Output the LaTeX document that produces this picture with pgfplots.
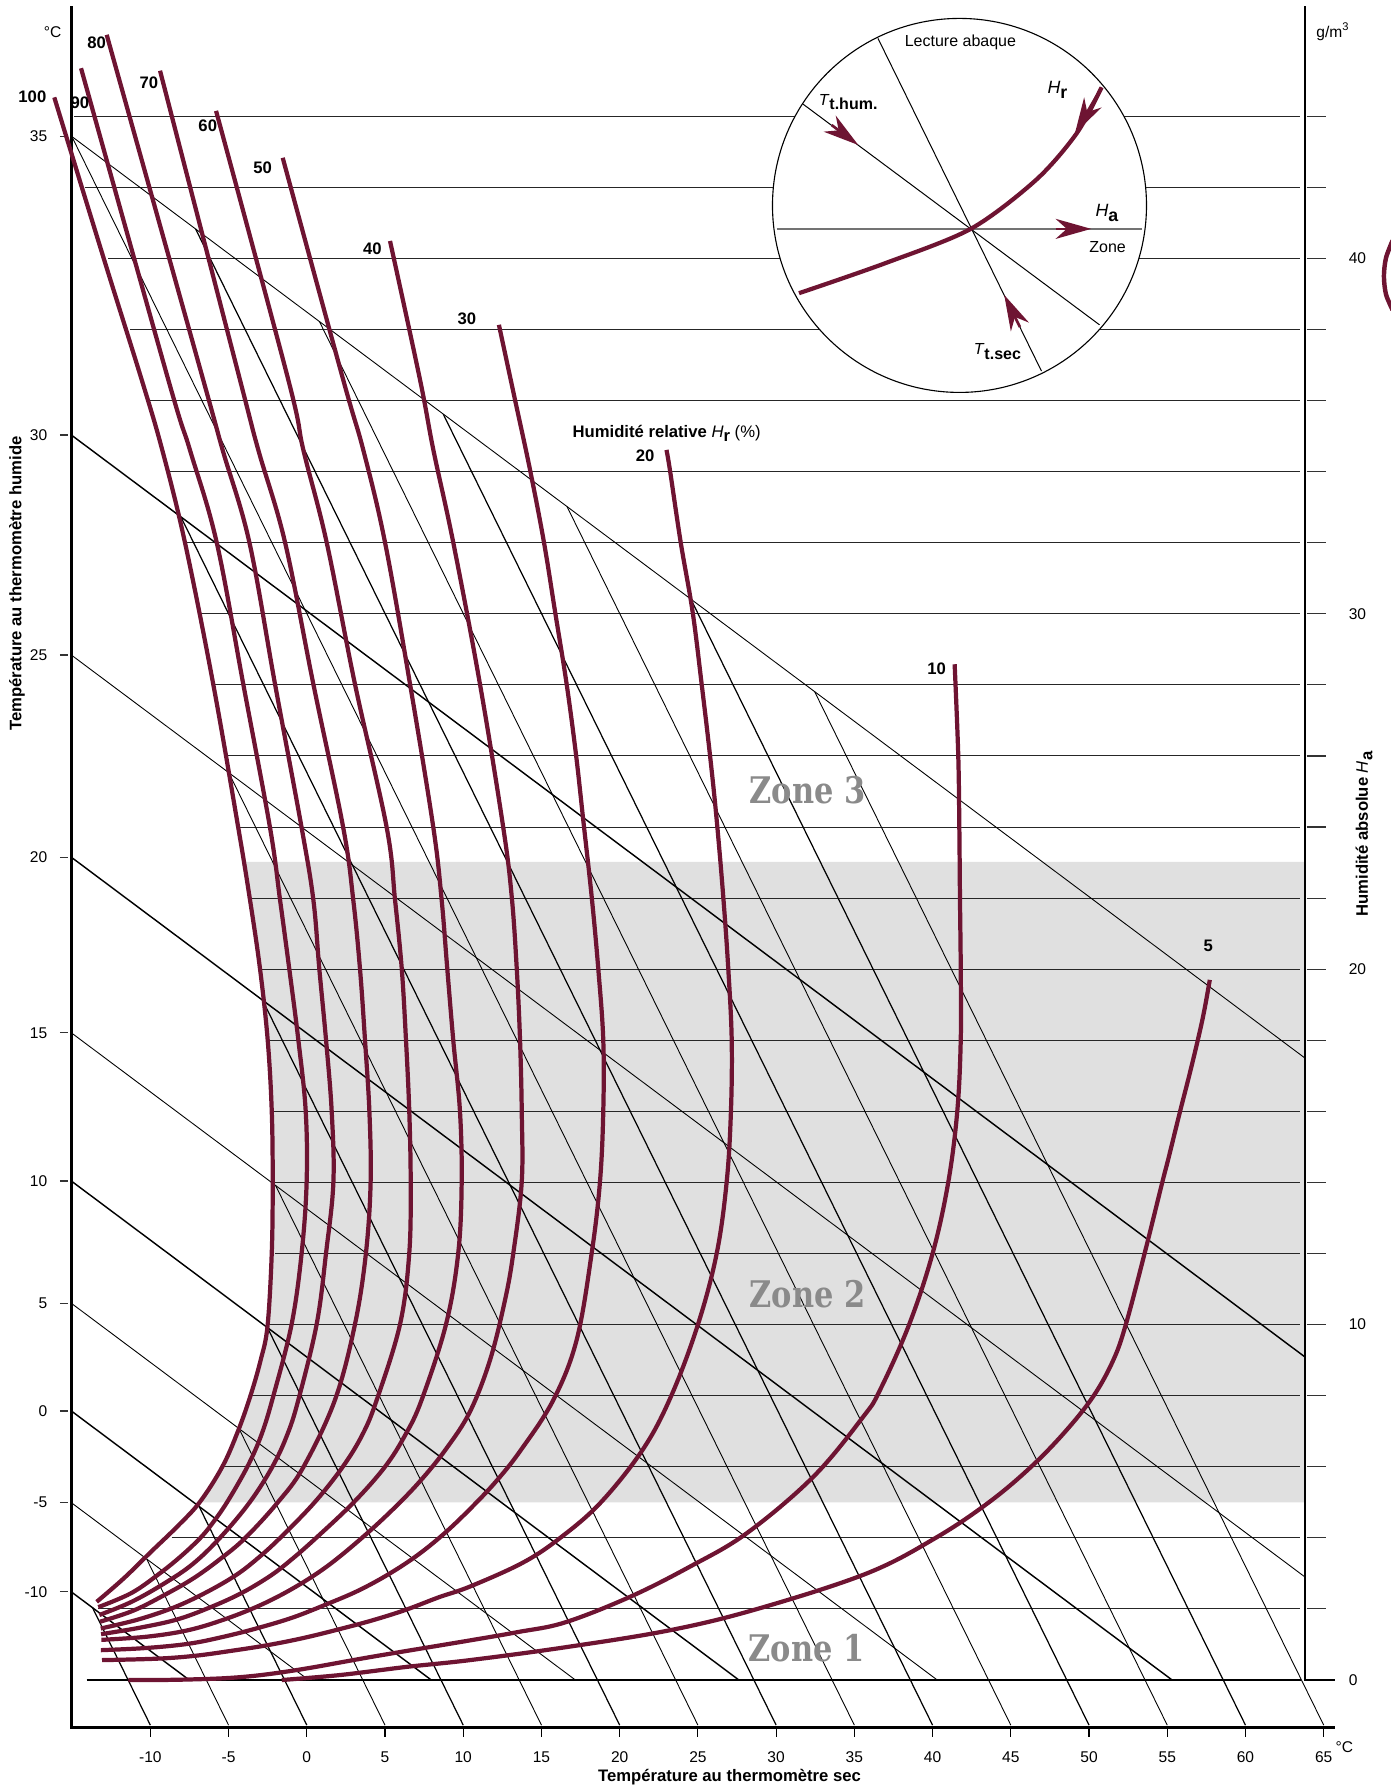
\documentclass[border=0pt]{standalone}
\usepackage{fontspec}
\setmainfont{Liberation Sans}
\newfontfamily\zonefont{DejaVu Serif}[FakeStretch=0.83]
\usepackage{pgfplots}
\pgfplotsset{compat=1.18}
\usetikzlibrary{arrows.meta}
\definecolor{rh}{RGB}{110,20,50}
\definecolor{band}{RGB}{224,224,224}
\definecolor{zonegray}{RGB}{138,138,138}
\newcommand{\fs}[1]{\fontsize{#1}{#1}\selectfont}
\newcommand{\sub}[1]{\raisebox{-0.5ex}{\bfseries #1}}
\begin{document}
\begin{tikzpicture}
\begin{axis}[x=7.04pt, y=15.993pt, xmin=-19.61, xmax=69.30, ymin=-3.01, ymax=47.27,
  hide axis, clip=false, unbounded coords=jump]
% grey band (zone 2)
\addplot[fill=band, draw=none] coordinates {(-4.02,23.02) (-3.63,21.95) (-2.99,20.01) (-2.50,18.01) (-2.24,16.01) (-2.18,14.01) (-2.24,12.01) (-2.51,9.96) (-2.95,9.0) (-3.6,8.0) (-4.4,7.0) (-5.4,6.0) (-6.85,5.0) (63.8,5.0) (63.8,23.02)};
% absolute humidity lines
\addplot[line width=0.45pt, black!85] coordinates {
(-14.88,44)(63.47,44) (nan,nan) (-14.18,42)(63.47,42) (nan,nan) (-12.69,40)(63.47,40) (nan,nan)
(-11.30,38)(63.47,38) (nan,nan) (-10.02,36)(63.47,36) (nan,nan) (-8.74,34)(63.47,34) (nan,nan)
(-7.79,32)(63.47,32) (nan,nan) (-6.83,30)(63.47,30) (nan,nan) (-5.97,28)(63.47,28) (nan,nan)
(-5.12,26)(63.47,26) (nan,nan) (-4.27,24)(63.47,24) (nan,nan) (-3.52,22)(63.47,22) (nan,nan)
(-2.88,20)(63.47,20) (nan,nan) (-2.46,18)(63.47,18) (nan,nan) (-2.20,16)(63.47,16) (nan,nan)
(-2.14,14)(63.47,14) (nan,nan) (-2.03,12)(63.47,12) (nan,nan) (-2.35,10)(63.47,10) (nan,nan)
(-3.52,8)(63.47,8) (nan,nan) (-5.34,6)(63.47,6) (nan,nan) (-8.64,4)(63.47,4) (nan,nan)
(-13.32,2)(63.47,2)};
\addplot[line width=1.2pt, black] coordinates {(-14.07,0)(63.58,0)};
% wet-bulb lines
\addplot[line width=0.65pt, black] coordinates {
(-15.05,35.03)(63.8,9.09) (nan,nan) (-15.05,23.15)(55.31,0) (nan,nan)
(-15.05,14.04)(27.62,0) (nan,nan) (-15.05,7.57)(7.96,0) (nan,nan) (-15.05,2.48)(-7.51,0)};
\addplot[line width=0.4pt, black] coordinates {
(-15.05,43.44)(63.8,17.50) (nan,nan) (-15.05,28.84)(63.8,2.90) (nan,nan)
(-15.05,18.21)(40.30,0) (nan,nan) (-15.05,10.60)(17.17,0) (nan,nan) (-15.05,4.99)(0.12,0)};
% dry-bulb lines
\addplot[line width=0.55pt, black] coordinates {
(-13.70,2.04)(-10,-1.27) (nan,nan) (-6.89,4.89)(0,-1.27) (nan,nan) (-2.52,9.92)(10,-1.27) (nan,nan)
(-2.83,19.13)(20,-1.27) (nan,nan) (-8.04,32.72)(30,-1.27) (nan,nan) (-7.11,40.83)(40,-1.27) (nan,nan)
(8.72,35.62)(50,-1.27) (nan,nan) (24.54,30.42)(60,-1.27)};
\addplot[line width=0.4pt, black] coordinates {
(-10.23,3.40)(-5,-1.27) (nan,nan) (-4.34,7.08)(5,-1.27) (nan,nan) (-1.99,13.91)(15,-1.27) (nan,nan)
(-4.99,25.53)(25,-1.27) (nan,nan) (-15.02,43.43)(35,-1.27) (nan,nan) (0.80,38.23)(45,-1.27) (nan,nan)
(16.63,33.02)(55,-1.27) (nan,nan) (32.46,27.81)(65,-1.27)};
% axes
\addplot[line width=1.2pt, black] coordinates {(-15.05,47.1)(-15.05,-1.33)(65.7,-1.33)};
\addplot[line width=1.2pt, black] coordinates {(63.8,47.1)(63.8,0)(65.7,0)};
% ticks
\addplot[line width=0.5pt, black] coordinates {
(-10,-1.33)(-10,-1.60) (nan,nan) (-5,-1.33)(-5,-1.60) (nan,nan) (0,-1.33)(0,-1.60) (nan,nan)
(5,-1.33)(5,-1.60) (nan,nan) (10,-1.33)(10,-1.60) (nan,nan) (15,-1.33)(15,-1.60) (nan,nan)
(20,-1.33)(20,-1.60) (nan,nan) (25,-1.33)(25,-1.60) (nan,nan) (30,-1.33)(30,-1.60) (nan,nan)
(35,-1.33)(35,-1.60) (nan,nan) (40,-1.33)(40,-1.60) (nan,nan) (45,-1.33)(45,-1.60) (nan,nan)
(50,-1.33)(50,-1.60) (nan,nan) (55,-1.33)(55,-1.60) (nan,nan) (60,-1.33)(60,-1.60) (nan,nan)
(65,-1.33)(65,-1.60)};
\addplot[line width=0.5pt, black!80] coordinates {
(-15.78,43.44)(-15.25,43.44) (nan,nan) (-15.78,35.03)(-15.25,35.03) (nan,nan)
(-15.78,28.84)(-15.25,28.84) (nan,nan) (-15.78,23.15)(-15.25,23.15) (nan,nan)
(-15.78,18.21)(-15.25,18.21) (nan,nan) (-15.78,14.04)(-15.25,14.04) (nan,nan)
(-15.78,10.60)(-15.25,10.60) (nan,nan) (-15.78,7.57)(-15.25,7.57) (nan,nan)
(-15.78,4.99)(-15.25,4.99) (nan,nan) (-15.78,2.48)(-15.25,2.48)};
\addplot[line width=0.5pt, black!80] coordinates {
(63.91,2)(65.16,2) (nan,nan) (63.91,4)(65.16,4) (nan,nan) (63.91,6)(65.16,6) (nan,nan)
(63.91,8)(65.16,8) (nan,nan) (63.91,10)(65.16,10) (nan,nan) (63.91,12)(65.16,12) (nan,nan)
(63.91,14)(65.16,14) (nan,nan) (63.91,16)(65.16,16) (nan,nan) (63.91,18)(65.16,18) (nan,nan)
(63.91,20)(65.16,20) (nan,nan) (63.91,22)(65.16,22) (nan,nan) (63.91,24)(65.16,24) (nan,nan)
(63.91,26)(65.16,26) (nan,nan) (63.91,28)(65.16,28) (nan,nan) (63.91,30)(65.16,30) (nan,nan)
(63.91,32)(65.16,32) (nan,nan) (63.91,34)(65.16,34) (nan,nan) (63.91,36)(65.16,36) (nan,nan)
(63.91,38)(65.16,38) (nan,nan) (63.91,40)(65.16,40) (nan,nan) (63.91,42)(65.16,42) (nan,nan)
(63.91,44)(65.16,44)};
% relative humidity curves
\pgfplotsset{rhc/.style={rh, line width=1.9pt, smooth, tension=0.6, line cap=butt}}
\addplot[rhc] coordinates {(-16.14,44.53) (-12.98,40.0) (-10.55,36.58) (-9.24,34.61) (-7.79,32.01) (-5.98,28.02) (-4.38,23.98) (-3.63,21.95) (-2.99,20.01) (-2.50,18.01) (-2.24,16.01) (-2.18,14.01) (-2.24,12.01) (-2.51,9.96) (-2.95,9.0) (-3.6,8.0) (-4.4,7.0) (-5.4,6.0) (-6.85,5.0) (-8.3,4.31) (-9.95,3.61) (-11.7,2.86) (-13.43,2.20)};
\addplot[rhc] coordinates {(-14.43,45.35) (-8.85,36.58) (-7.47,34.61) (-5.76,32.01) (-4.06,28.02) (-2.35,23.98) (-1.71,21.95) (-1.12,20.01) (-0.54,18.01) (-0.07,16.01) (-0.01,14.01) (-0.33,12.01) (-0.97,10.01) (-2.14,7.99) (-2.9,6.9) (-3.8,6.0) (-5.1,5.0) (-6.05,4.4) (-6.8,4.0) (-8.0,3.5) (-9.4,3.0) (-11.2,2.45) (-13.33,2.05)};
\addplot[rhc] coordinates {(-12.79,46.29) (-6.62,36.58) (-5.38,34.61) (-3.67,32.01) (-2.03,28.02) (-0.33,23.98) (0.42,21.95) (0.80,20.01) (1.23,18.01) (1.59,16.01) (1.70,14.01) (1.23,12.01) (0.63,10.01) (-0.54,7.88) (-1.25,6.9) (-2.2,6.0) (-3.65,5.0) (-5.55,4.0) (-7.3,3.26) (-9.1,2.72) (-11.2,2.2) (-13.26,1.83)};
\addplot[rhc] coordinates {(-9.38,45.28) (-4.27,36.58) (-3.10,34.61) (-1.39,32.01) (0.42,28.02) (2.33,23.98) (2.97,21.95) (3.40,20.01) (3.72,18.01) (4.00,16.01) (4.08,14.01) (3.78,12.01) (3.08,10.01) (1.80,7.88) (-0.22,5.99) (-1.85,5.0) (-3.95,3.99) (-5.55,3.40) (-7.25,2.86) (-9.15,2.38) (-11.1,1.95) (-13.22,1.64)};
\addplot[rhc] coordinates {(-5.80,44.15) (-1.18,36.58) (-0.22,34.61) (1.27,32.01) (3.08,28.02) (5.11,23.98) (5.64,21.95) (6.07,20.01) (6.34,18.01) (6.55,16.01) (6.64,14.01) (6.55,12.01) (5.96,10.01) (4.47,7.88) (3.55,6.9) (2.3,6.0) (0.5,5.0) (-1.7,4.0) (-3.2,3.4) (-4.6,2.93) (-6.5,2.45) (-8.5,2.04) (-10.8,1.70) (-13.17,1.45)};
\addplot[rhc] coordinates {(-1.54,42.83) (2.33,36.58) (3.61,34.61) (5.00,32.01) (6.60,28.02) (8.09,23.98) (8.62,21.95) (8.98,20.01) (9.36,18.01) (9.79,16.01) (9.90,14.01) (9.68,12.01) (8.90,10.01) (7.34,7.88) (6.3,6.9) (5.0,6.0) (3.0,5.0) (0.6,4.0) (-0.95,3.4) (-2.3,2.94) (-4.16,2.45) (-6.20,2.04) (-8.32,1.70) (-10.7,1.47) (-13.15,1.29)};
\addplot[rhc] coordinates {(5.32,40.49) (7.24,36.58) (8.09,34.61) (9.36,32.01) (11.07,28.02) (12.56,23.98) (13.10,22.04) (13.42,20.02) (13.63,18.01) (13.74,15.99) (13.74,14.02) (13.20,12.01) (12.67,10.69) (11.71,9.00) (10.43,7.55) (8.9,6.5) (7.25,5.6) (5.5,4.8) (3.5,3.99) (1.3,3.2) (-0.8,2.6) (-3.0,2.1) (-5.3,1.7) (-7.6,1.4) (-10.2,1.22) (-13.13,1.13)};
\addplot[rhc] coordinates {(12.28,38.13) (13.31,36.02) (14.27,34.05) (15.16,32.01) (15.87,30.06) (16.61,28.02) (17.21,26.03) (17.67,24.20) (18.21,22.04) (18.63,20.02) (18.95,18.01) (18.95,15.99) (18.74,14.02) (18.21,12.01) (17.25,9.57) (15.76,7.88) (13.65,6.45) (12.12,5.6) (10.61,4.89) (8.91,4.17) (7.13,3.53) (5.24,2.98) (3.27,2.51) (1.20,2.12) (-0.89,1.76) (-3.07,1.47) (-5.29,1.22) (-7.56,1.02) (-10.3,0.90) (-13.16,0.84)};
\addplot[rhc] coordinates {(22.99,34.61) (23.21,34.05) (23.90,32.01) (24.66,30.06) (25.24,28.02) (25.77,26.03) (26.20,24.20) (26.62,22.04) (26.94,20.02) (27.16,18.01) (27.11,15.99) (26.84,14.02) (26.2,12.0) (25.0,10.0) (23.3,8.0) (21.5,6.5) (18.8,5.0) (16.2,4.0) (13.8,3.3) (10.43,2.63) (8.45,2.33) (6.36,1.98) (4.20,1.68) (1.99,1.42) (-0.24,1.18) (-2.52,0.98) (-4.84,0.82) (-7.18,0.68) (-9.6,0.60) (-13.09,0.56)};
\addplot[rhc] coordinates {(41.41,28.58) (41.64,26.03) (41.71,23.98) (41.75,22.02) (41.80,20.01) (41.80,18.01) (41.58,16.01) (41.0,14.0) (40.0,12.0) (38.5,10.0) (36.64,8.16) (35.57,7.41) (32.38,5.72) (28.12,4.13) (24.49,3.19) (20.66,2.34) (16.50,1.62) (13.5,1.35) (10.5,1.12) (4.25,0.66) (-0.65,0.28) (-4.27,0.08) (-8.0,0.01) (-11.41,0.0)};
\addplot[rhc] coordinates {(57.72,19.70) (57.35,18.8) (56.95,18.0) (56.4,17.0) (55.82,16.0) (55.05,14.63) (54.68,14.0) (53.55,12.0) (52.35,10.0) (51.55,9.0) (50.3,8.0) (48.5,7.0) (46.3,6.0) (43.6,5.0) (40.2,4.0) (35.8,3.0) (28.8,2.0) (23.2,1.4) (16.5,0.92) (10.43,0.56) (6.39,0.37) (2.12,0.14) (-1.60,0.0)};
% piece of a shape at the right edge
\addplot[rh, line width=2pt, smooth] coordinates {(69.40,40.50) (68.98,40.01) (68.85,39.50) (68.98,38.99) (69.40,38.55)};
% inset
\draw[fill=white, line width=0.5pt] (axis cs:41.72,41.49) circle [radius=84.15pt];
\addplot[line width=0.9pt, black!55] coordinates {(30.03,40.83)(53.36,40.83)};
\addplot[line width=0.45pt, black] coordinates {(31.72,44.34)(50.67,38.13)};
\addplot[line width=0.45pt, black] coordinates {(36.51,46.19)(46.96,36.83)};
\addplot[rh, line width=1.9pt, smooth, tension=0.5] coordinates {(31.46,39.02) (36.95,39.86) (42.44,40.83) (46.62,42.21) (49.23,43.53) (50.80,44.81)};
\pgfplotsset{arr/.style={rh, line width=1.2pt, -{Stealth[length=16pt,width=9pt,inset=5pt]}}}
\addplot[arr] coordinates {(33.55,43.75)(35.25,43.19)};
\addplot[arr] coordinates {(50.80,44.81)(49.10,43.52)};
\addplot[arr] coordinates {(47.87,40.83)(50.14,40.83)};
\addplot[arr] coordinates {(45.58,38.07)(44.58,38.97)};
\node[font=\fs{7.2}] at (axis cs:41.78,46.07) {Lecture abaque};
\node[font=\fs{7.2}] at (axis cs:34.60,44.40) {\textit{T}\sub{t.hum.}};
\node[font=\fs{8}] at (axis cs:47.98,44.75) {\textit{H}\sub{r}};
\node[font=\fs{8}] at (axis cs:51.14,41.27) {\textit{H}\sub{a}};
\node[font=\fs{7.2}] at (axis cs:51.19,40.31) {Zone};
\node[font=\fs{7.2}] at (axis cs:44.14,37.38) {\textit{T}\sub{t.sec}};
% RH labels
\node[font=\fs{7.5}\bfseries] at (axis cs:-17.54,44.55) {100};
\node[font=\fs{7.5}\bfseries] at (axis cs:-14.50,44.38) {90};
\node[font=\fs{7.5}\bfseries] at (axis cs:-13.43,46.07) {80};
\node[font=\fs{7.5}\bfseries] at (axis cs:-10.09,44.95) {70};
\node[font=\fs{7.5}\bfseries] at (axis cs:-6.33,43.73) {60};
\node[font=\fs{7.5}\bfseries] at (axis cs:-2.82,42.56) {50};
\node[font=\fs{7.5}\bfseries] at (axis cs:4.19,40.26) {40};
\node[font=\fs{7.5}\bfseries] at (axis cs:10.24,38.29) {30};
\node[font=\fs{7.5}\bfseries, inner sep=1pt] at (axis cs:21.62,34.45) {20};
\node[font=\fs{7.5}\bfseries] at (axis cs:40.26,28.44) {10};
\node[font=\fs{7.5}\bfseries] at (axis cs:57.62,20.65) {5};
\node[font=\fs{7.5}, inner sep=1pt] at (axis cs:23.0,35.07) {\textbf{Humidité relative} \textit{H}\sub{r} (\%)};
% zones
\node[font=\zonefont\bfseries\fs{16.5}, text=zonegray] at (axis cs:32.0,25.04) {Zone 3};
\node[font=\zonefont\bfseries\fs{16.5}, text=zonegray] at (axis cs:32.0,10.86) {Zone 2};
\node[font=\zonefont\bfseries\fs{16.5}, text=zonegray] at (axis cs:31.95,0.89) {Zone 1};
% left tick labels
\node[font=\fs{7}, anchor=east] at (axis cs:-16.09,43.44) {35};
\node[font=\fs{7}, anchor=east] at (axis cs:-16.09,35.03) {30};
\node[font=\fs{7}, anchor=east] at (axis cs:-16.09,28.84) {25};
\node[font=\fs{7}, anchor=east] at (axis cs:-16.09,23.15) {20};
\node[font=\fs{7}, anchor=east] at (axis cs:-16.09,18.21) {15};
\node[font=\fs{7}, anchor=east] at (axis cs:-16.09,14.04) {10};
\node[font=\fs{7}, anchor=east] at (axis cs:-16.09,10.60) {5};
\node[font=\fs{7}, anchor=east] at (axis cs:-16.09,7.57) {0};
\node[font=\fs{7}, anchor=east] at (axis cs:-16.09,4.99) {-5};
\node[font=\fs{7}, anchor=east] at (axis cs:-16.09,2.48) {-10};
% right tick labels
\node[font=\fs{7}, anchor=west] at (axis cs:66.1,0) {0};
\node[font=\fs{7}, anchor=west] at (axis cs:66.1,10) {10};
\node[font=\fs{7}, anchor=west] at (axis cs:66.1,20) {20};
\node[font=\fs{7}, anchor=west] at (axis cs:66.1,30) {30};
\node[font=\fs{7}, anchor=west] at (axis cs:66.1,40) {40};
% bottom tick labels
\node[font=\fs{7}] at (axis cs:-10,-2.16) {-10};
\node[font=\fs{7}] at (axis cs:-5,-2.16) {-5};
\node[font=\fs{7}] at (axis cs:0,-2.16) {0};
\node[font=\fs{7}] at (axis cs:5,-2.16) {5};
\node[font=\fs{7}] at (axis cs:10,-2.16) {10};
\node[font=\fs{7}] at (axis cs:15,-2.16) {15};
\node[font=\fs{7}] at (axis cs:20,-2.16) {20};
\node[font=\fs{7}] at (axis cs:25,-2.16) {25};
\node[font=\fs{7}] at (axis cs:30,-2.16) {30};
\node[font=\fs{7}] at (axis cs:35,-2.16) {35};
\node[font=\fs{7}] at (axis cs:40,-2.16) {40};
\node[font=\fs{7}] at (axis cs:45,-2.16) {45};
\node[font=\fs{7}] at (axis cs:50,-2.16) {50};
\node[font=\fs{7}] at (axis cs:55,-2.16) {55};
\node[font=\fs{7}] at (axis cs:60,-2.16) {60};
\node[font=\fs{7}] at (axis cs:65,-2.16) {65};
% units and titles
\node[font=\fs{7}] at (axis cs:-16.24,46.37) {°C};
\node[font=\fs{7}] at (axis cs:65.6,46.37) {g/m\textsuperscript{3}};
\node[font=\fs{7}] at (axis cs:66.32,-1.88) {°C};
\node[font=\fs{7.5}\bfseries] at (axis cs:27.02,-2.72) {Température au thermomètre sec};
\node[font=\fs{7.5}\bfseries, rotate=90] at (axis cs:-18.52,30.85) {Température au thermomètre humide};
\node[font=\fs{7.5}, rotate=90] at (axis cs:67.58,23.8) {\textbf{Humidité absolue} \textit{H}\sub{a}};
\coordinate (BL) at (axis cs:-19.61,-3.01);
\coordinate (TR) at (axis cs:69.30,47.27);
\end{axis}
\pgfresetboundingbox
\path[use as bounding box] (BL) rectangle (TR);
\end{tikzpicture}
\end{document}
